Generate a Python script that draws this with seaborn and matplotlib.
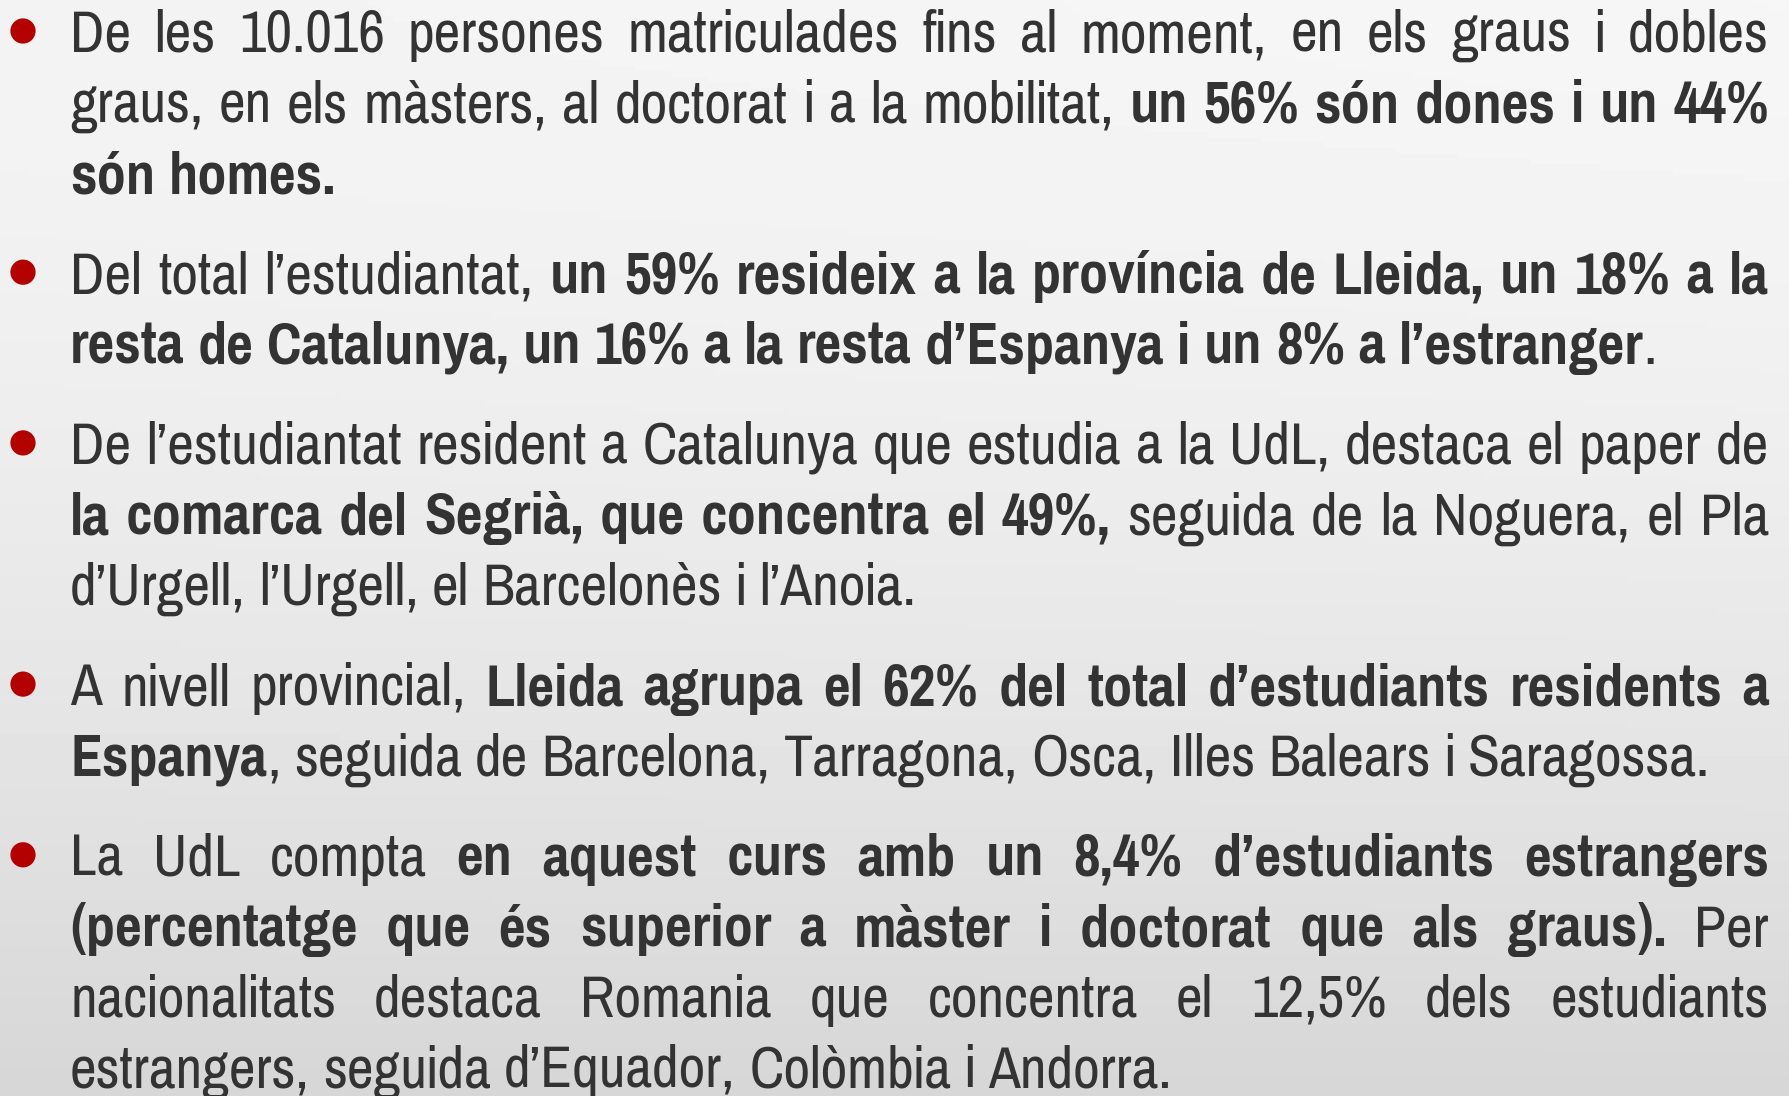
import numpy as np
import matplotlib
matplotlib.use('Agg')
import matplotlib.pyplot as plt
import seaborn as sns
from matplotlib import font_manager
from matplotlib.font_manager import FontProperties
from matplotlib.textpath import TextPath

sns.set_theme(style='white')

installed = {f.name for f in font_manager.fontManager.ttflist}
candidates = ['Liberation Sans Narrow', 'Arial Narrow', 'Pragati Narrow', 'Roboto Condensed',
              'Archivo Narrow', 'PT Sans Narrow', 'Liberation Sans']
font_name = next(c for c in candidates if c in installed)
plt.rcParams['font.family'] = [font_name, 'DejaVu Sans']

# text of each bullet, line by line: (text, bold)
p1 = [
    [("De les 10.016 persones matriculades fins al moment, en els graus i dobles", False)],
    [("graus, en els màsters, al doctorat i a la mobilitat, ", False), ("un 56% són dones i un 44%", True)],
    [("són homes.", True)],
]
p2 = [
    [("Del total l’estudiantat, ", False), ("un 59% resideix a la província de Lleida, un 18% a la", True)],
    [("resta de Catalunya, un 16% a la resta d’Espanya i un 8% a l’estranger", True), (".", False)],
]
p3 = [
    [("De l’estudiantat resident a Catalunya que estudia a la UdL, destaca el paper de", False)],
    [("la comarca del Segrià, que concentra el 49%,", True), (" seguida de la Noguera, el Pla", False)],
    [("d’Urgell, l’Urgell, el Barcelonès i l’Anoia.", False)],
]
p4 = [
    [("A nivell provincial, ", False), ("Lleida agrupa el 62% del total d’estudiants residents a", True)],
    [("Espanya", True), (", seguida de Barcelona, Tarragona, Osca, Illes Balears i Saragossa.", False)],
]
p5 = [
    [("La UdL compta ", False), ("en aquest curs amb un 8,4% d’estudiants estrangers", True)],
    [("(percentatge que és superior a màster i doctorat que als graus).", True), (" Per", False)],
    [("nacionalitats destaca Romania que concentra el 12,5% dels estudiants", False)],
    [("estrangers, seguida d’Equador, Colòmbia i Andorra.", False)],
]
paragraphs = [p1, p2, p3, p4, p5]

W, H = 1789, 1096
left, right = 70, 1769
first_base, pitch, para_gap = 52, 70.5, 29.7
cap_px = 40
text_color = '#333333'
bullet_color = '#b30000'

# font size giving the wanted cap height
cap_per_pt = TextPath((0, 0), 'H', size=1, prop=FontProperties(family=font_name)).get_extents().height
fsize = cap_px * 0.72 / cap_per_pt

fig = plt.figure(figsize=(W / 100, H / 100), dpi=100)
ax = fig.add_axes([0, 0, 1, 1])
ax.set_xlim(0, W)
ax.set_ylim(H, 0)
ax.axis('off')

# background: light grey, darker towards the bottom
yy = np.linspace(0, 1, 200)[:, None]
xx = np.linspace(0, 1, 200)[None, :]
shade = 0.955 - 0.115 * yy ** 1.6 + 0.01 * xx * (1 - yy)
ax.imshow(shade, cmap='gray', vmin=0, vmax=1, extent=(0, W, H, 0), aspect='auto', zorder=0)

fig.canvas.draw()
renderer = fig.canvas.get_renderer()


def width_of(s, bold, size):
    t = ax.text(0, 0, s, fontsize=size, fontweight='bold' if bold else 'normal')
    w = t.get_window_extent(renderer).width
    t.remove()
    return w


def words_of(line):
    # list of words, each a list of (piece, bold)
    words, cur = [], []
    for txt, bold in line:
        parts = txt.split(' ')
        for i, part in enumerate(parts):
            if i > 0:
                if cur:
                    words.append(cur)
                cur = []
            if part:
                cur.append((part, bold))
    if cur:
        words.append(cur)
    return words


# shrink the size if the widest justified line would not fit with normal spaces
for _ in range(3):
    space_w = width_of('a a', False, fsize) - width_of('aa', False, fsize)
    worst = 0
    for para in paragraphs:
        for line in para[:-1]:
            words = words_of(line)
            need = sum(width_of(p, b, fsize) for w in words for p, b in w) + 0.8 * space_w * (len(words) - 1)
            worst = max(worst, need / (right - left))
    if worst <= 1:
        break
    fsize /= worst

space_w = width_of('a a', False, fsize) - width_of('aa', False, fsize)

base = first_base
bullet_x, bullet_y = [], []
for para in paragraphs:
    bullet_x.append(23)
    bullet_y.append(base - 21)
    for li, line in enumerate(para):
        words = words_of(line)
        widths = [[width_of(p, b, fsize) for p, b in w] for w in words]
        total = sum(sum(ws) for ws in widths)
        last = li == len(para) - 1
        gap = space_w if last or len(words) < 2 else (right - left - total) / (len(words) - 1)
        x = left
        for w, ws in zip(words, widths):
            for (piece, bold), pw in zip(w, ws):
                ax.text(x, base, piece, fontsize=fsize, color=text_color,
                        fontweight='bold' if bold else 'normal', va='baseline', ha='left')
                x += pw
            x += gap
        base += pitch
    base += para_gap

sns.scatterplot(x=bullet_x, y=bullet_y, s=330, color=bullet_color, edgecolor='none', ax=ax, zorder=3)
ax.set_xlim(0, W)
ax.set_ylim(H, 0)
ax.axis('off')

fig.savefig('out.png', dpi=100)
